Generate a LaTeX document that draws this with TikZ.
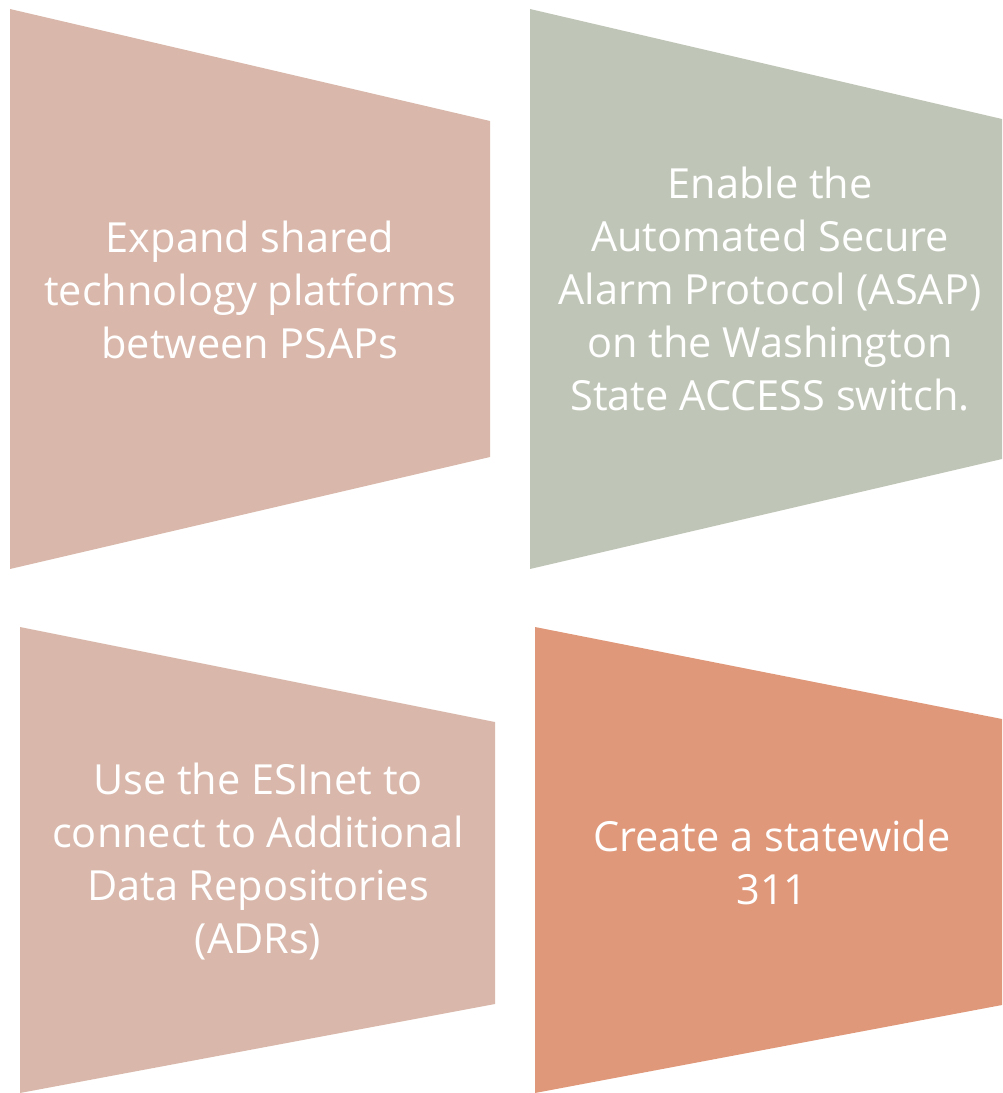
\documentclass[tikz,border=0pt]{standalone}
\usepackage{fontspec}
\setmainfont{Open Sans}
\usepackage{tikz}
\usetikzlibrary{positioning}
\definecolor{rosepanel}{HTML}{D9B8AB}
\definecolor{sagepanel}{HTML}{C0C6B7}
\definecolor{coralpanel}{HTML}{E0987A}
\tikzset{panel/.style={draw=none},
  paneltext/.style={text=white,align=center,font=\fontsize{41.5}{53}\selectfont}}

\begin{document}
\begin{tikzpicture}[x=1pt,y=-1pt,line cap=round]

  \useasboundingbox (0,0) rectangle (1002,1093);

  \fill [panel,rosepanel] (10,9) -- (490,121) -- (490,457) -- (10,569) -- cycle;
  \fill [panel,sagepanel] (530,9) -- (1002,119) -- (1002,459) -- (530,569) -- cycle;
  \fill [panel,rosepanel] (20,627) -- (495,722) -- (495,1004) -- (20,1093) -- cycle;
  \fill [panel,coralpanel] (535,627) -- (1002,719) -- (1002,1005) -- (535,1093) -- cycle;


  \node [paneltext] (expand) at (250,290) {Expand shared\\technology platforms\\between PSAPs};
  \node [paneltext] (asap) at (770,289) {Enable the\\Automated Secure\\Alarm Protocol (ASAP)\\on the Washington\\State ACCESS switch.};
  \node [paneltext] (esinet) at (258,862) {Use the ESInet to\\connect to Additional\\Data Repositories\\(ADRs)};
  \node [paneltext] (threeone) at (772,862) {Create a statewide\\311};

\end{tikzpicture}
\end{document}
